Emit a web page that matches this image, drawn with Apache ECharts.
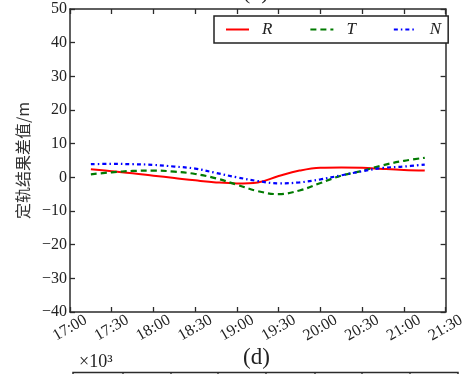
<!DOCTYPE html>
<html>
<head>
<meta charset="utf-8">
<script src="https://cdn.jsdelivr.net/npm/echarts@6/dist/echarts.min.js"></script>
<style>html,body{margin:0;padding:0;background:#fff;}#c{width:468px;height:374px;}</style>
</head>
<body>
<div id="c"></div>
<script>
// Data
var times = ["17:15","17:30","17:45","18:00","18:15","18:30","18:45","19:00","19:15","19:30","19:45","20:00","20:15","20:30","20:45","21:00","21:15"];
var seriesR = [2.4, 1.8, 1.2, 0.5, -0.2, -0.9, -1.5, -1.8, -1.5, 0.4, 2.0, 2.85, 2.95, 2.85, 2.5, 2.2, 2.0];
var seriesT = [0.9, 1.5, 1.9, 2.0, 1.7, 1.0, -0.3, -2.2, -4.1, -5.0, -3.9, -1.7, 0.5, 1.9, 3.6, 4.9, 5.8];
var seriesN = [3.9, 4.0, 3.9, 3.7, 3.2, 2.6, 1.3, 0.0, -1.1, -1.8, -1.5, -0.6, 0.6, 1.8, 2.8, 3.2, 3.8];
var seriesNames = ["R", "T", "N"];
var xTickStart = "17:00";
var yLabelText = "定轨结果差值/m";

function toMin(t) { var p = t.split(":"); return (+p[0]) * 60 + (+p[1]); }
var base = toMin(xTickStart);
function pairs(vals) { return vals.map(function (v, i) { return [toMin(times[i]) - base, v]; }); }
function fmtTime(m) {
  var t = base + m, h = Math.floor(t / 60), mm = t % 60;
  return h + ":" + (mm < 10 ? "0" : "") + mm;
}
var serif = "Liberation Serif";
var axisColor = "#2b2b2b";
var lineW = 1.5;

var chart = echarts.init(document.getElementById("c"), null, { renderer: "canvas" });
var tickCommon = { show: true, inside: true, length: 5, lineStyle: { color: axisColor, width: 1.3 } };
var option = {
  backgroundColor: "#fff",
  animation: false,
  grid: { left: 70, top: 9, right: 15, bottom: 62, containLabel: false },
  legend: {
    left: 214, top: 16,
    orient: "horizontal",
    data: seriesNames,
    itemWidth: 23, itemHeight: 12, itemGap: 37,
    padding: [5, 7, 5, 11],
    borderColor: "#222", borderWidth: 1.5,
    backgroundColor: "#fff",
    itemStyle: { opacity: 0 },
    textStyle: { fontFamily: serif, fontStyle: "italic", fontSize: 17, color: "#222", padding: [0, 0, 0, 8] }
  },
  xAxis: [{
    type: "value", min: 0, max: 270, interval: 30,
    axisLine: { show: true, onZero: false, lineStyle: { color: axisColor, width: lineW } },
    axisTick: tickCommon,
    splitLine: { show: false },
    axisLabel: {
      rotate: 30, align: "center", verticalAlign: "middle", margin: 16,
      fontFamily: serif, fontSize: 16, color: "#222",
      formatter: function (v) { return fmtTime(v); },
      showMinLabel: true, showMaxLabel: true
    }
  }, {
    type: "value", position: "top", min: 0, max: 270, interval: 30,
    axisLine: { show: true, onZero: false, lineStyle: { color: axisColor, width: lineW } },
    axisTick: tickCommon, axisLabel: { show: false }, splitLine: { show: false }
  }],
  yAxis: [{
    type: "value", min: -40, max: 50, interval: 10,
    name: yLabelText, nameLocation: "middle", nameGap: 37, nameRotate: 90,
    nameTextStyle: { fontFamily: "Noto Sans CJK SC", fontSize: 16, color: "#333" },
    axisLine: { show: true, onZero: false, lineStyle: { color: axisColor, width: lineW } },
    axisTick: tickCommon,
    splitLine: { show: false },
    axisLabel: {
      margin: 3, fontFamily: serif, fontSize: 16, color: "#222",
      formatter: function (v) { return v < 0 ? "\u2212" + Math.abs(v) : String(v); }
    }
  }, {
    type: "value", position: "right", min: -40, max: 50, interval: 10,
    axisLine: { show: true, onZero: false, lineStyle: { color: axisColor, width: lineW } },
    axisTick: tickCommon, axisLabel: { show: false }, splitLine: { show: false }
  }],
  series: [{
    name: seriesNames[0], type: "line", smooth: 0.4, symbol: "none", showSymbol: false,
    data: pairs(seriesR), color: "#ff0000",
    lineStyle: { color: "#ff0000", width: 2, type: "solid" }
  }, {
    name: seriesNames[1], type: "line", smooth: 0.4, symbol: "none", showSymbol: false,
    data: pairs(seriesT), color: "#007a00",
    lineStyle: { color: "#007a00", width: 2.2, type: [6, 4] }
  }, {
    name: seriesNames[2], type: "line", smooth: 0.4, symbol: "none", showSymbol: false,
    data: pairs(seriesN), color: "#0000ff",
    lineStyle: { color: "#0000ff", width: 2.2, type: [4, 3, 1.5, 3] }
  }],
  graphic: [
    { type: "text", left: 243, top: -18, style: { text: "(b)", font: "22px " + serif, fill: "#222" } },
    { type: "text", left: 243, top: 346, style: { text: "(d)", font: "23px " + serif, fill: "#222" } },
    { type: "text", left: 79, top: 353, style: { text: "\u00d710\u00b3", font: "18px " + serif, fill: "#222" } },
    { type: "rect", shape: { x: 73, y: 372.5, width: 385, height: 20 }, style: { fill: "none", stroke: axisColor, lineWidth: 1.5 } },
    { type: "line", shape: { x1: 123, y1: 372, x2: 123, y2: 378 }, style: { stroke: axisColor, lineWidth: 1.3 } },
    { type: "line", shape: { x1: 171, y1: 372, x2: 171, y2: 378 }, style: { stroke: axisColor, lineWidth: 1.3 } },
    { type: "line", shape: { x1: 218, y1: 372, x2: 218, y2: 378 }, style: { stroke: axisColor, lineWidth: 1.3 } },
    { type: "line", shape: { x1: 266, y1: 372, x2: 266, y2: 378 }, style: { stroke: axisColor, lineWidth: 1.3 } },
    { type: "line", shape: { x1: 315, y1: 372, x2: 315, y2: 378 }, style: { stroke: axisColor, lineWidth: 1.3 } },
    { type: "line", shape: { x1: 362, y1: 372, x2: 362, y2: 378 }, style: { stroke: axisColor, lineWidth: 1.3 } },
    { type: "line", shape: { x1: 410, y1: 372, x2: 410, y2: 378 }, style: { stroke: axisColor, lineWidth: 1.3 } }
  ]
};
chart.setOption(option);
</script>
</body>
</html>
